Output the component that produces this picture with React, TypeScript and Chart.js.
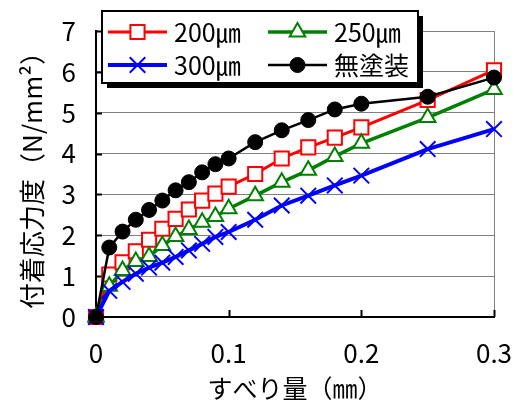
import React, { useEffect, useRef } from 'react';
import { Chart, registerables } from 'chart.js';
import { drawPoint } from 'chart.js/helpers';

Chart.register(...registerables);

// slip (mm)
const slip = [0, 0.01, 0.02, 0.03, 0.04, 0.05, 0.06, 0.07, 0.08, 0.09, 0.10, 0.12, 0.14, 0.16, 0.18, 0.20, 0.25, 0.30, 0.35];
// bond stress (N/mm2)
const s200 = [0, 1.04, 1.34, 1.61, 1.89, 2.16, 2.40, 2.63, 2.85, 3.02, 3.19, 3.50, 3.88, 4.15, 4.39, 4.64, 5.31, 6.04, 6.80];
const s250 = [0, 0.75, 1.14, 1.36, 1.48, 1.75, 1.97, 2.14, 2.32, 2.46, 2.65, 2.97, 3.30, 3.59, 3.93, 4.25, 4.88, 5.57, 6.45];
const s300 = [0, 0.64, 0.86, 1.06, 1.21, 1.33, 1.47, 1.63, 1.79, 1.96, 2.08, 2.38, 2.73, 2.97, 3.22, 3.46, 4.11, 4.60, 5.20];
const sNone = [0, 1.70, 2.09, 2.38, 2.62, 2.85, 3.10, 3.30, 3.54, 3.74, 3.88, 4.28, 4.57, 4.82, 5.08, 5.22, 5.39, 5.86, 6.30];

const seriesLabels = ['200㎛', '250㎛', '300㎛', '無塗装'];
const xTitle = 'すべり量（㎜）';
const yTitle = '付着応力度（N/mm²）';

const FONT = '"Noto Sans CJK JP", "Noto Sans CJK SC", sans-serif';

const innerTicks = {
  id: 'innerTicks',
  beforeDatasetsDraw(chart: any) {
    const { ctx, chartArea, scales } = chart;
    const x = scales.x;
    const y = scales.y;
    ctx.save();
    ctx.strokeStyle = '#000';
    ctx.lineWidth = 2;
    ctx.beginPath();
    y.ticks.forEach((t: any) => {
      if (t.value === 0) return;
      const py = Math.round(y.getPixelForValue(t.value)) + 0.5;
      ctx.moveTo(chartArea.left, py);
      ctx.lineTo(chartArea.left + 6, py);
    });
    x.ticks.forEach((t: any) => {
      if (t.value === 0) return;
      const px = Math.round(x.getPixelForValue(t.value)) + 0.5;
      ctx.moveTo(px, chartArea.bottom);
      ctx.lineTo(px, chartArea.bottom - 7);
    });
    ctx.stroke();
    ctx.restore();
  },
};

const boxLegend = {
  id: 'boxLegend',
  afterDraw(chart: any) {
    const { ctx } = chart;
    const bx = 102, by = 11, bw = 316, bh = 72;
    ctx.save();
    ctx.fillStyle = '#000';
    ctx.fillRect(bx + 5, by + 5, bw, bh);
    ctx.fillStyle = '#fff';
    ctx.fillRect(bx, by, bw, bh);
    ctx.strokeStyle = '#000';
    ctx.lineWidth = 2;
    ctx.strokeRect(bx, by, bw, bh);
    const colX = [108, 268];
    const rowY = [32, 65];
    chart.data.datasets.forEach((ds: any, i: number) => {
      const cx = colX[i % 2];
      const cy = rowY[Math.floor(i / 2)];
      ctx.strokeStyle = ds.borderColor;
      ctx.lineWidth = ds.borderWidth;
      ctx.beginPath();
      ctx.moveTo(cx, cy);
      ctx.lineTo(cx + 59, cy);
      ctx.stroke();
      ctx.fillStyle = ds.pointBackgroundColor;
      ctx.strokeStyle = ds.pointBorderColor;
      ctx.lineWidth = ds.pointBorderWidth;
      drawPoint(ctx, { pointStyle: ds.pointStyle, rotation: ds.pointRotation || 0, radius: ds.pointRadius, borderWidth: ds.pointBorderWidth }, cx + 29.5, cy);
      ctx.fillStyle = '#000';
      ctx.font = `25px ${FONT}`;
      ctx.textBaseline = 'middle';
      ctx.textAlign = 'left';
      ctx.fillText(ds.label, cx + 66, cy);
    });
    ctx.restore();
  },
};

export default function App() {
  const ref = useRef<HTMLCanvasElement>(null);
  useEffect(() => {
    const mk = (arr: number[]) => slip.map((x, i) => ({ x, y: arr[i] }));
    const clip = { left: 12, top: 12, right: 11, bottom: 12 };
    const chart = new Chart(ref.current as HTMLCanvasElement, {
      type: 'line',
      data: {
        datasets: [
          {
            label: seriesLabels[0], data: mk(s200), borderColor: '#ff0000', borderWidth: 3,
            pointStyle: 'rect', pointRadius: 10, pointBackgroundColor: '#ffffff', pointBorderColor: '#ff0000',
            pointBorderWidth: 2, order: 4, clip,
          },
          {
            label: seriesLabels[1], data: mk(s250), borderColor: '#008000', borderWidth: 3.5,
            pointStyle: 'triangle', pointRadius: 9, pointBackgroundColor: '#ffffff', pointBorderColor: '#008000',
            pointBorderWidth: 2, order: 3, clip,
          },
          {
            label: seriesLabels[2], data: mk(s300), borderColor: '#0000ff', borderWidth: 4,
            pointStyle: 'crossRot', pointRadius: 11, pointBackgroundColor: '#0000ff', pointBorderColor: '#0000ff',
            pointBorderWidth: 2, order: 2, clip,
          },
          {
            label: seriesLabels[3], data: mk(sNone), borderColor: '#000000', borderWidth: 2.5,
            pointStyle: 'circle', pointRadius: 7.5, pointBackgroundColor: '#000000', pointBorderColor: '#000000',
            pointBorderWidth: 1, order: 1, clip,
          },
        ] as any,
      },
      options: {
        animation: false,
        responsive: false,
        events: [],
        layout: { padding: { left: 0, right: 26, top: 31, bottom: 0 } },
        plugins: { legend: { display: false }, tooltip: { enabled: false } },
        elements: { line: { tension: 0 } },
        scales: {
          x: {
            type: 'linear', min: 0, max: 0.3,
            afterFit: (s: any) => { s.height = 86; s.paddingLeft = 0; s.paddingRight = 0; },
            ticks: {
              stepSize: 0.1, color: '#000', padding: 21,
              font: { family: FONT, size: 26 },
              callback: (v: any) => (Number(v) === 0 ? '0' : Number(v).toFixed(1)),
            },
            grid: {
              drawTicks: false, lineWidth: 1,
              color: (c: any) => (c.tick && Math.abs(c.tick.value - 0.3) < 1e-6 ? '#808080' : 'rgba(0,0,0,0)'),
            },
            border: { color: '#000', width: 2 },
            title: { display: true, text: xTitle, color: '#000', font: { family: FONT, size: 25, lineHeight: 1.2 }, padding: { top: 0, bottom: 0 } },
          },
          y: {
            type: 'linear', min: 0, max: 7,
            afterFit: (s: any) => { s.width = 96; s.paddingTop = 0; s.paddingBottom = 0; },
            ticks: { stepSize: 1, color: '#000', padding: 20, font: { family: FONT, size: 26 } },
            grid: { drawTicks: false, color: '#808080', lineWidth: 1 },
            border: { color: '#000', width: 2 },
            title: { display: true, text: yTitle, color: '#000', font: { family: FONT, size: 26, lineHeight: 1.2 }, padding: { top: 17, bottom: 0 } },
          },
        },
      } as any,
      plugins: [innerTicks, boxLegend],
    });
    return () => chart.destroy();
  }, []);
  return (
    <div style={{ position: 'fixed', left: 0, top: 0, width: 520, height: 403, background: '#fff' }}>
      <canvas ref={ref} width={520} height={403} />
    </div>
  );
}
